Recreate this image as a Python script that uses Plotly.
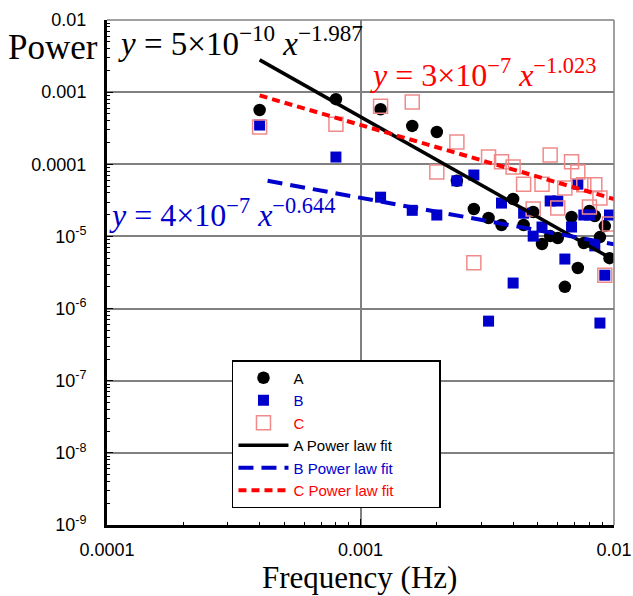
import plotly.graph_objects as go

# ---------------- data ----------------
freq = [0.0004, 0.0008, 0.0012, 0.0016, 0.0020, 0.0024, 0.0028, 0.0032,
        0.0036, 0.0040, 0.0044, 0.0048, 0.0052, 0.0056, 0.0060, 0.0064,
        0.0068, 0.0072, 0.0076, 0.0080, 0.0084, 0.0088, 0.0092, 0.0096]

power_a = [5.65e-4, 8.0e-4, 5.8e-4, 3.4e-4, 2.8e-4, 5.9e-5, 2.4e-5, 1.8e-5,
           1.44e-5, 3.3e-5, 1.44e-5, 2.18e-5, 7.85e-6, 1.01e-5, 9.5e-6, 2.0e-6,
           1.86e-5, 3.65e-6, 8.1e-6, 2.25e-5, 1.92e-5, 9.8e-6, 1.39e-5, 5.0e-6]

power_b = [3.5e-4, 1.26e-4, 3.5e-5, 2.3e-5, 1.98e-5, 5.9e-5, 7.1e-5, 6.7e-7,
           2.9e-5, 2.26e-6, 2.1e-5, 1.01e-5, 1.35e-5, 3.1e-5, 3.1e-5, 4.86e-6,
           1.35e-5, 5.3e-5, 1.98e-5, 1.98e-5, 7.4e-6, 6.3e-7, 2.9e-6, 1.98e-5]

power_c = [3.3e-4, 3.6e-4, 6.4e-4, 7.3e-4, 7.8e-5, 2.04e-4, 4.3e-6, 1.26e-4,
           1.08e-4, 9.2e-5, 5.3e-5, 2.4e-5, 5.3e-5, 1.35e-4, 2.48e-5, 4.7e-5,
           1.08e-4, 7.8e-5, 5.2e-5, 2.56e-5, 5.2e-5, 3.4e-5, 2.9e-6, 1.49e-5]

# power-law fit lines (end points)
fit_a_x = [0.0004, 0.01]
fit_a_y = [2.8e-3, 4.7e-6]
fit_b_x = [0.00043, 0.01]
fit_b_y = [5.9e-5, 7.8e-6]
fit_c_x = [0.0004, 0.01]
fit_c_y = [9.0e-4, 3.3e-5]

x_tick_vals = [1e-4, 1e-3, 1e-2]
x_tick_text = ["0.0001", "0.001", "0.01"]
y_tick_vals = [1e-9, 1e-8, 1e-7, 1e-6, 1e-5, 1e-4, 1e-3, 1e-2]
y_tick_text = ["10<sup>-9</sup>", "10<sup>-8</sup>", "10<sup>-7</sup>", "10<sup>-6</sup>",
               "10<sup>-5</sup>", "0.0001", "0.001", "0.01"]

BLUE = "#0000CC"
RED = "#FF0000"
PINK = "#F08A8A"
PAD = "&nbsp;" * 10

fig = go.Figure()

fig.add_trace(go.Scatter(x=freq, y=power_a, mode="markers", name="A",
                         marker=dict(symbol="circle", size=12.5, color="black")))
fig.add_trace(go.Scatter(x=freq, y=power_b, mode="markers",
                         name='<span style="color:#0000CC">B</span>',
                         marker=dict(symbol="square", size=11, color=BLUE)))
fig.add_trace(go.Scatter(x=freq, y=power_c, mode="markers",
                         name='<span style="color:#FF0000">C</span>',
                         marker=dict(symbol="square-open", size=14, color=PINK,
                                     line=dict(width=1.5, color=PINK))))
fig.add_trace(go.Scatter(x=fit_a_x, y=fit_a_y, mode="lines", name="A Power law fit" + PAD,
                         line=dict(color="black", width=3.5)))
fig.add_trace(go.Scatter(x=fit_b_x, y=fit_b_y, mode="lines",
                         name='<span style="color:#0000CC">B Power law fit</span>',
                         line=dict(color=BLUE, width=4, dash="15px,8px")))
fig.add_trace(go.Scatter(x=fit_c_x, y=fit_c_y, mode="lines",
                         name='<span style="color:#FF0000">C Power law fit</span>',
                         line=dict(color=RED, width=4, dash="8px,5px")))

minor_x = [m * 10 ** e for e in (-4, -3) for m in range(2, 10)]
minor_y = [m * 10 ** e for e in range(-9, -2) for m in range(2, 10)]

axis_common = dict(
    type="log", showgrid=True, gridcolor="#808080", gridwidth=1.5,
    showline=True, linecolor="black", linewidth=3, zeroline=False,
    automargin=False,
    ticks="inside", ticklen=6, tickcolor="black", tickmode="array",
    tickfont=dict(family="Liberation Sans, Arial", size=18, color="black"),
)

fig.update_layout(
    width=633, height=596, autosize=False,
    margin=dict(l=107, r=19, t=20, b=71),
    paper_bgcolor="white", plot_bgcolor="white",
    xaxis=dict(range=[-4, -2], tickvals=x_tick_vals, ticktext=x_tick_text,
               ticklabelstandoff=6,
               minor=dict(tickmode="array", tickvals=minor_x, ticks="inside",
                          ticklen=3, tickcolor="black", showgrid=False),
               **axis_common),
    yaxis=dict(range=[-9, -2], tickvals=y_tick_vals, ticktext=y_tick_text,
               ticklabelstandoff=14,
               minor=dict(tickmode="array", tickvals=minor_y, ticks="inside",
                          ticklen=3, tickcolor="black", showgrid=False),
               **axis_common),
    showlegend=True,
    legend=dict(x=0.2465, y=0.3267, xanchor="left", yanchor="top",
                bgcolor="white", bordercolor="black", borderwidth=1.5,
                font=dict(family="Liberation Sans, Arial", size=15, color="black"),
                itemwidth=50, tracegroupgap=0),
)

# top and right frame lines
fig.add_shape(type="line", xref="paper", yref="paper", x0=0, x1=1, y0=1, y1=1,
              line=dict(color="#808080", width=1.5))
fig.add_shape(type="line", xref="paper", yref="paper", x0=1, x1=1, y0=0, y1=1,
              line=dict(color="#808080", width=1.5))

serif = "Liberation Serif, Times New Roman, serif"
fig.add_annotation(text="Power", xref="paper", yref="paper", x=-0.106, y=0.945,
                   xanchor="center", yanchor="middle", showarrow=False,
                   font=dict(family=serif, size=35, color="black"))
fig.add_annotation(text="Frequency (Hz)", xref="paper", yref="paper", x=0.499, y=-0.103,
                   xanchor="center", yanchor="middle", showarrow=False,
                   font=dict(family=serif, size=31, color="black"))
fig.add_annotation(text="<i>y</i> = 5×10<sup>−10</sup> <i>x</i><sup>−1.987</sup>",
                   xref="paper", yref="paper", x=0.0186, y=0.959,
                   xanchor="left", yanchor="middle", showarrow=False,
                   font=dict(family=serif, size=33, color="black"))
fig.add_annotation(text="<i>y</i> = 3×10<sup>−7</sup> <i>x</i><sup>−1.023</sup>",
                   xref="paper", yref="paper", x=0.514, y=0.895,
                   xanchor="left", yanchor="middle", showarrow=False,
                   font=dict(family=serif, size=32, color=RED))
fig.add_annotation(text="<i>y</i> = 4×10<sup>−7</sup> <i>x</i><sup>−0.644</sup>",
                   xref="paper", yref="paper", x=0.0, y=0.618,
                   xanchor="left", yanchor="middle", showarrow=False,
                   font=dict(family=serif, size=32, color=BLUE))

fig.write_html(
    "out.html",
    config={"displayModeBar": False, "responsive": False},
    post_script=("document.body.style.margin='0px';"
                 "document.body.style.overflow='hidden';"
                 "document.documentElement.style.overflow='hidden';"),
)
